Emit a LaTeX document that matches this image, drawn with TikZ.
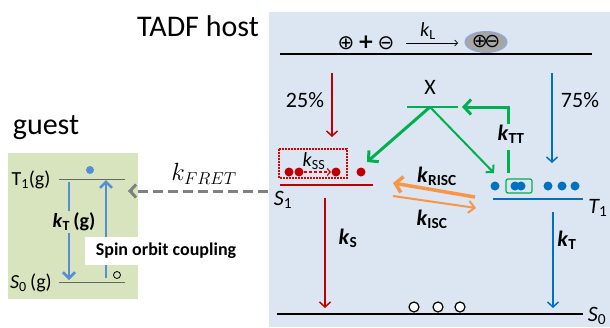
\documentclass[tikz,border=0pt]{standalone}
\usepackage{fontspec}
\setmainfont{Carlito}
\newfontfamily\symfont{DejaVu Sans}
\usetikzlibrary{arrows.meta,shapes.geometric}
\definecolor{hostbg}{HTML}{DCE6F2}
\definecolor{guestbg}{HTML}{D7E4BD}
\definecolor{myred}{HTML}{C00000}
\definecolor{dotred}{HTML}{E00000}
\definecolor{myblue}{HTML}{0070C0}
\definecolor{lblue}{HTML}{558ED5}
\definecolor{mygreen}{HTML}{00B050}
\definecolor{myorange}{HTML}{F79646}
\definecolor{mygray}{HTML}{808080}
\definecolor{ellgray}{HTML}{A6A6A6}
\definecolor{ellrim}{HTML}{8EA9DB}
\newcommand\kvar[1]{\textit{k}\textsubscript{#1}}
\newcommand\kbold[1]{\textbf{\textit{k}\textsubscript{#1}}}
\begin{document}
\begin{tikzpicture}[x=1pt,y=-1pt,
  big/.style={inner sep=0pt, font=\fontsize{30}{34}\selectfont},
  lbl/.style={inner sep=0pt, font=\fontsize{22}{26}\selectfont},
  mid/.style={inner sep=0pt, font=\fontsize{20}{24}\selectfont},
  sym/.style={inner sep=0pt, font=\fontsize{20}{22}\symfont},
  tipb/.style={-{Straight Barb[length=5pt,width=11pt]}},
  level/.style={line width=1.5pt}]
\useasboundingbox (0,0) rectangle (610,327);
% backgrounds
\fill[hostbg] (269,12) rectangle (610,327);
\fill[guestbg] (8,153) rectangle (138,299);
% titles
\node[big] (tadf) at (198,26) {TADF host};
\node[big] (guest) at (46,128) {guest};
% top line and charge recombination
\coordinate (tl1) at (280,54); \coordinate (tl2) at (592,54);
\draw[level] (tl1) -- (tl2);
\node[sym] (hole) at (346,43) {⊕};
\node[sym, font=\fontsize{20}{22}\symfont\bfseries] (plus) at (366,42.5) {+};
\node[sym] (elec) at (386,43) {⊖};
\node[ellipse, fill=ellgray, draw=ellrim, line width=1pt, minimum width=42pt, minimum height=21pt, inner sep=0pt, font=\fontsize{19}{20}\symfont] (pair) at (486,42) {⊕\kern-3.5pt⊖};
\coordinate (kl1) at (406,43); \coordinate (kl2) at (458,43);
\draw[-{Straight Barb[length=3pt,width=6pt]}, line width=0.6pt] (kl1) -- (kl2);
\node[mid] (kL) at (428,31) {\kvar{L}};
% 25% and 75%
\coordinate (r1) at (332,73); \coordinate (r2) at (332,137);
\draw[tipb, myred, line width=1.5pt] (r1) -- (r2);
\node[lbl] (p25) at (305,100) {25\%};
\coordinate (b1) at (552,73); \coordinate (b2) at (552,163);
\draw[tipb, myblue, line width=1.5pt] (b1) -- (b2);
\node[lbl] (p75) at (580,100) {75\%};
% X
\node[lbl] (X) at (430,87) {X};
\coordinate (xl) at (407,107); \coordinate (xr) at (458,107); \coordinate (xa) at (430,107);
\draw[mygreen, line width=2.4pt] (xl) -- (xr);
\coordinate (gs) at (367,162); \coordinate (gt) at (494,173);
\draw[mygreen, line width=3pt, -{Straight Barb[length=7pt,width=15pt]}] (xa) -- (gs);
\draw[mygreen, line width=2pt, -{Straight Barb[length=5pt,width=11pt]}] (xa) -- (gt);
\coordinate (tt0) at (508,124); \coordinate (tt1) at (508,107); \coordinate (tt2) at (462,107);
\draw[mygreen, line width=3pt, -{Straight Barb[length=7pt,width=15pt]}] (tt0) -- (tt1) -- (tt2);
\node[lbl] (kTT) at (511,134) {\kbold{TT}};
\coordinate (tt3) at (508,150); \coordinate (tt4) at (508,173);
\draw[mygreen, line width=3pt] (tt3) -- (tt4);
% S1 level
\coordinate (s1a) at (280,185); \coordinate (s1b) at (373,185);
\draw[level, myred] (s1a) -- (s1b);
\node[lbl, font=\fontsize{22}{26}\selectfont\itshape] (S1) at (283,200) {S\textsubscript{\upshape 1}};
\draw[dotred, dash pattern=on 1.6pt off 1.4pt, line width=1.2pt] (279,149) rectangle (347,178);
\foreach \x in {289,299,336,361} \fill[myred] (\x,172) circle (4.5);
\coordinate (ss1) at (304,172); \coordinate (ss2) at (331,172);
\draw[dotred, dash pattern=on 3pt off 2pt, line width=1.2pt, -{Straight Barb[length=3pt,width=7pt]}] (ss1) -- (ss2);
\node[mid] (kSS) at (314,161) {\kvar{SS}};
% T1 level
\coordinate (t1a) at (493,199); \coordinate (t1b) at (583,199);
\draw[level, myblue] (t1a) -- (t1b);
\node[lbl, font=\fontsize{22}{26}\selectfont\itshape] (T1) at (598,208) {T\textsubscript{\upshape 1}};
\foreach \x in {495,515,521,548,562,575} \fill[myblue] (\x,186) circle (4.5);
\draw[mygreen, line width=1.2pt, rounded corners=2pt] (506,179) rectangle (532,193);
% RISC / ISC
\coordinate (o1) at (475,197); \coordinate (o2) at (393,183);
\draw[myorange, line width=3.5pt, -{Straight Barb[length=7pt,width=16pt]}] (o1) -- (o2);
\coordinate (o3) at (393,196); \coordinate (o4) at (476,208);
\draw[myorange, line width=2pt, -{Straight Barb[length=6pt,width=12pt]}] (o3) -- (o4);
\node[lbl] (kRISC) at (437,176) {\kbold{RISC}};
\node[lbl] (kISC) at (432,219) {\kbold{ISC}};
% decays
\coordinate (ks1) at (325,198); \coordinate (ks2) at (325,308);
\draw[tipb, myred, line width=1.5pt] (ks1) -- (ks2);
\node[lbl] (kS) at (348,238) {\kbold{S}};
\coordinate (kt1) at (553,212); \coordinate (kt2) at (553,308);
\draw[tipb, myblue, line width=1.5pt] (kt1) -- (kt2);
\node[lbl] (kT) at (567,240) {\kbold{T}};
% S0 level
\coordinate (s0a) at (277,314); \coordinate (s0b) at (583,314);
\draw[level] (s0a) -- (s0b);
\node[lbl, font=\fontsize{22}{26}\selectfont\itshape, anchor=north] (S0) at (597,307) {S\textsubscript{\upshape 0}};
\foreach \x in {414,438,460} \draw[fill=white, line width=1.2pt] (\x,307) circle (5);
% FRET
\node[inner sep=0pt, font=\fontsize{23}{26}\selectfont] (kFRET) at (204,174) {$k_{FRET}$};
\coordinate (f1) at (268,191); \coordinate (f2) at (128,191);
\draw[mygray, line width=3pt, dash pattern=on 10pt off 5pt, -{Straight Barb[length=6pt,width=13pt]}] (f1) -- (f2);
% guest levels
\coordinate (g1a) at (59,179); \coordinate (g1b) at (125,179);
\draw[mygray!80!black, line width=1pt] (g1a) -- (g1b);
\coordinate (g0a) at (59,282); \coordinate (g0b) at (125,282);
\draw[mygray!80!black, line width=1pt] (g0a) -- (g0b);
\node[mid] (T1g) at (31,180) {T\textsubscript{1}(g)};
\node[mid] (S0g) at (31,283) {\textit{S}\textsubscript{0}\,(g)};
\fill[lblue] (90,170) circle (4);
\draw[line width=0.8pt] (117,275) circle (3.5);
\coordinate (gd1) at (69,182); \coordinate (gd2) at (69,280);
\draw[lblue, line width=2.5pt, -{Straight Barb[length=6pt,width=12pt]}] (gd1) -- (gd2);
\node[fill=guestbg, inner sep=2pt, font=\fontsize{20}{24}\selectfont] (kTg) at (74,222) {\textbf{\textit{k}\textsubscript{T}\,(g)}};
\coordinate (gu1) at (106,278); \coordinate (gu2) at (106,180);
\draw[lblue, line width=2.5pt, -{Straight Barb[length=6pt,width=12pt]}] (gu1) -- (gu2);
\node[fill=white, inner sep=0pt, minimum width=163pt, minimum height=28pt, font=\fontsize{18}{22}\selectfont\bfseries] (soc) at (166,251) {Spin orbit coupling};
\end{tikzpicture}
\end{document}
